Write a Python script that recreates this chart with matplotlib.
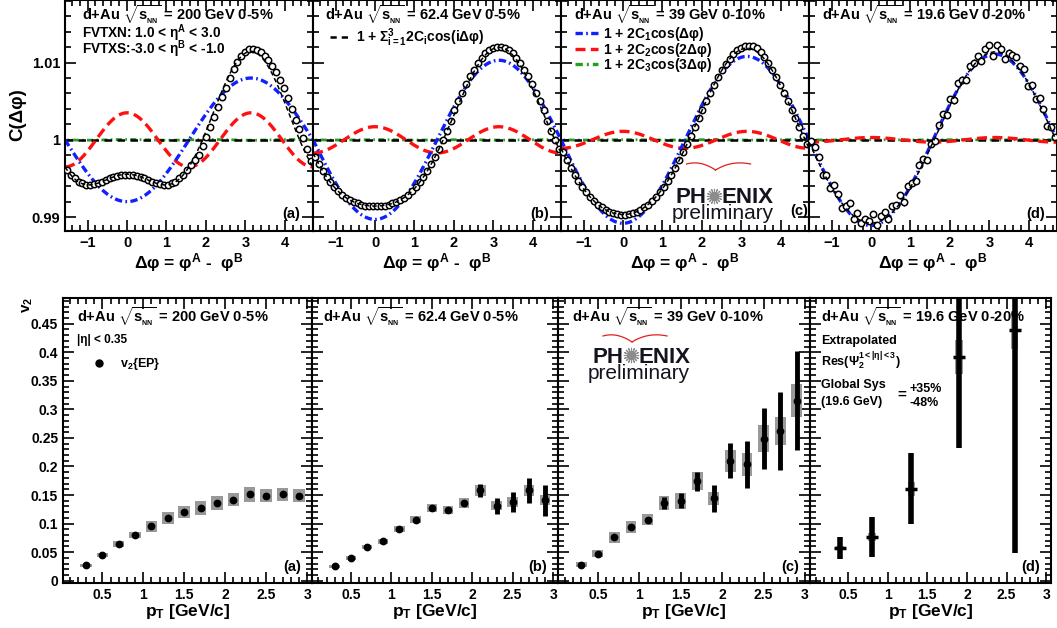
import numpy as np
import matplotlib.pyplot as plt
from matplotlib.ticker import MultipleLocator, FixedLocator

plt.rcParams['font.family'] = ['Liberation Sans', 'DejaVu Sans']
plt.rcParams['font.weight'] = 'bold'
plt.rcParams['axes.labelweight'] = 'bold'
plt.rcParams['mathtext.fontset'] = 'custom'
plt.rcParams['mathtext.rm'] = 'Liberation Sans:bold'
plt.rcParams['mathtext.it'] = 'Liberation Sans:bold'
plt.rcParams['mathtext.bf'] = 'Liberation Sans:bold'
plt.rcParams['mathtext.sf'] = 'Liberation Sans:bold'

W, H = 1057, 628

# ---- top row: C(dphi) correlation functions, 64 bins in [-pi/2, 3pi/2]
n_bins = 64
energies = ['200', '62.4', '39', '19.6']
centralities = ['0-5%', '0-5%', '0-10%', '0-20%']
panel_tags = ['(a)', '(b)', '(c)', '(d)']

# C(dphi) - 1 in units of 1e-4
corr_200 = [-39, -45, -50, -54, -56, -58, -58, -57, -56, -54, -52, -50, -48, -47, -46, -45,
            -45, -46, -47, -48, -50, -52, -54, -56, -57, -58, -58, -56, -54, -50, -45, -39,
            -33, -26, -20, -8, 4, 17, 30, 42, 55, 67, 80, 92, 101, 109, 114, 117,
            117, 116, 114, 109, 103, 96, 88, 78, 67, 54, 40, 26, 14, 2, -12, -27]
corr_62 = [-22, -31, -40, -48, -55, -61, -66, -71, -75, -78, -80, -82, -84, -85, -86, -86,
           -86, -86, -85, -84, -82, -80, -78, -75, -71, -66, -61, -55, -48, -40, -31, -22,
           -12, 0, 12, 25, 38, 50, 61, 72, 82, 91, 99, 106, 112, 116, 119, 120,
           120, 119, 116, 112, 106, 99, 91, 82, 72, 61, 50, 38, 25, 12, 0, -12]
corr_39 = [-16, -26, -36, -45, -53, -61, -68, -74, -79, -84, -87, -91, -93, -95, -96, -97,
           -97, -96, -95, -93, -91, -87, -84, -79, -74, -68, -61, -53, -45, -36, -26, -16,
           -6, 5, 17, 28, 39, 50, 61, 71, 81, 90, 98, 105, 111, 116, 119, 121,
           122, 122, 119, 114, 107, 99, 90, 81, 71, 61, 50, 39, 28, 17, 5, -6]
corr_19 = [-2, -9, -22, -45, -45, -62, -58, -70, -88, -85, -82, -102, -95, -107, -102, -105,
           -96, -110, -99, -93, -103, -86, -84, -72, -81, -60, -56, -53, -32, -25, -26, -5,
           -2, 19, 33, 32, 53, 51, 73, 78, 77, 95, 100, 109, 102, 117, 123, 108,
           123, 117, 105, 113, 110, 107, 95, 92, 70, 71, 53, 54, 40, 18, 17, 4]
corr_err = [1.5, 1.5, 2.0, 4.0]

# fitted Fourier coefficients 2C_n (units of 1e-4)
two_c1 = [-80, -103, -108, -111]
two_c2 = [35, 17, 11, 3]
two_c3 = [0.5, 0.3, 0.3, 0.2]

# ---- bottom row: v2(pT)
pt_bins = [0.3, 0.5, 0.7, 0.9, 1.1, 1.3, 1.5, 1.7, 1.9, 2.1, 2.3, 2.5, 2.7, 2.9]
v2_200 = [0.027, 0.045, 0.064, 0.080, 0.095, 0.110, 0.120, 0.127, 0.136, 0.142, 0.151, 0.149, 0.151, 0.149]
stat_200 = [0.002] * 14
sys_200 = [0.003, 0.004, 0.005, 0.006, 0.009, 0.010, 0.011, 0.012, 0.012, 0.012, 0.013, 0.012, 0.012, 0.012]
v2_62 = [0.025, 0.040, 0.059, 0.069, 0.090, 0.107, 0.127, 0.123, 0.136, 0.158, 0.131, 0.138, 0.158, 0.141]
stat_62 = [0.002, 0.002, 0.002, 0.003, 0.003, 0.003, 0.004, 0.004, 0.005, 0.011, 0.014, 0.018, 0.022, 0.027]
sys_62 = [0.002, 0.003, 0.004, 0.004, 0.005, 0.006, 0.007, 0.007, 0.008, 0.009, 0.008, 0.009, 0.009, 0.009]
v2_39 = [0.028, 0.047, 0.076, 0.094, 0.107, 0.136, 0.140, 0.174, 0.144, 0.210, 0.204, 0.249, 0.262, 0.315]
stat_39 = [0.002, 0.002, 0.003, 0.004, 0.005, 0.010, 0.013, 0.017, 0.023, 0.031, 0.041, 0.054, 0.069, 0.087]
sys_39 = [0.004, 0.006, 0.010, 0.011, 0.010, 0.012, 0.014, 0.016, 0.012, 0.019, 0.020, 0.023, 0.024, 0.029]
pt_19 = [0.4, 0.8, 1.3, 1.9, 2.6]
v2_19 = [0.0575, 0.077, 0.161, 0.392, 0.439]
stat_19 = [0.019, 0.035, 0.062, 0.159, 0.39]
sys_19 = [0.003, 0.007, 0.012, 0.030, 0.033]

fig = plt.figure(figsize=(W / 100, H / 100), dpi=100)


def px_axes(x0, x1, y0, y1):
    return fig.add_axes([x0 / W, 1 - y1 / H, (x1 - x0) / W, (y1 - y0) / H])


def ftext(x, y, s, **kw):
    kw.setdefault('ha', 'left')
    kw.setdefault('va', 'baseline')
    fig.text(x / W, 1 - y / H, s, **kw)


def root_style(ax):
    for sp in ax.spines.values():
        sp.set_linewidth(1.5)
    ax.tick_params(which='both', direction='in', top=True, right=True, width=1.2)
    ax.tick_params(which='major', length=8)
    ax.tick_params(which='minor', length=4)


def bold_ticks(ax, size):
    for lbl in ax.get_xticklabels() + ax.get_yticklabels():
        lbl.set_fontweight('bold')
        lbl.set_fontsize(size)


def phenix_logo(ax, x0, y0, arc_lift):
    """PHENIX preliminary logo; x0,y0 = left/baseline of 'PH' in axes fraction"""
    pos = ax.get_position()
    aw, ah = pos.width * W, pos.height * H

    def p(dx, dy):
        return x0 + dx / aw, y0 + dy / ah

    kw = dict(transform=ax.transAxes, va='baseline', ha='left', color='#14141e')
    ax.text(*p(0, 0), 'PH', fontsize=16, fontweight='bold', **kw)
    ax.text(*p(46, 0), 'ENIX', fontsize=16, fontweight='bold', **kw)
    ax.text(*p(-4, -16), 'preliminary', fontsize=15, fontweight='normal', **kw)
    ax.plot(*p(38.5, 7.5), marker=(16, 2, 0), ms=11, mew=0.8, color='0.55',
            transform=ax.transAxes, clip_on=False)
    t = np.linspace(0, 1, 30)
    for a, c, b in [((11, 6), (25, 10), (40, 0)), ((40, 0), (56, 10), (75, 6))]:
        bx = (1 - t) ** 2 * a[0] + 2 * t * (1 - t) * c[0] + t ** 2 * b[0]
        by = (1 - t) ** 2 * a[1] + 2 * t * (1 - t) * c[1] + t ** 2 * b[1]
        px, py = p(bx, by + arc_lift)
        ax.plot(px, py, color='#e02020', lw=0.9, transform=ax.transAxes, clip_on=False)


# ---------------- top row ----------------
top_x = [(65, 313), (313, 561), (561, 809), (809, 1057)]
corr_sets = [corr_200, corr_62, corr_39, corr_19]
edges = np.linspace(-np.pi / 2, 3 * np.pi / 2, n_bins + 1)
dphi = 0.5 * (edges[1:] + edges[:-1])
xs = np.linspace(-np.pi / 2, 3 * np.pi / 2, 400)

for k in range(4):
    ax = px_axes(top_x[k][0], top_x[k][1], 0, 231)
    root_style(ax)
    ax.set_xlim(-np.pi / 2, 3 * np.pi / 2)
    ax.set_ylim(0.9882, 1.0181)
    ax.xaxis.set_major_locator(FixedLocator([-1, 0, 1, 2, 3, 4]))
    ax.xaxis.set_minor_locator(MultipleLocator(0.2))
    ax.yaxis.set_major_locator(FixedLocator([0.99, 1.0, 1.01]))
    ax.yaxis.set_minor_locator(MultipleLocator(0.002))
    ax.set_xticklabels(['\u22121', '0', '1', '2', '3', '4'])
    if k == 0:
        ax.set_yticklabels(['0.99', '1', '1.01'])
    else:
        ax.set_yticklabels([])
    bold_ticks(ax, 10.5)
    a1, a2, a3 = two_c1[k] * 1e-4, two_c2[k] * 1e-4, two_c3[k] * 1e-4
    ax.plot(xs, 1 + a3 * np.cos(3 * xs), color='#22a022', lw=2.0,
            ls=(2.5, (2.2, 1.2, 0.6, 1.2)))
    ax.axhline(1.0, color='k', lw=1.8, ls=(0, (3.0, 2.2)))
    ax.plot(xs, 1 + a2 * np.cos(2 * xs), color='#ff1010', lw=2.4, ls=(0, (3.0, 1.6)))
    ax.plot(xs, 1 + a1 * np.cos(xs), color='#1020ff', lw=2.4, ls=(0, (2.2, 1.0, 0.5, 1.0)))
    c = 1 + np.array(corr_sets[k]) * 1e-4
    ax.errorbar(dphi, c, yerr=corr_err[k] * 1e-4, fmt='o', ms=4.6, mfc='white',
                mec='k', mew=1.1, ecolor='k', elinewidth=1.0, capsize=0, zorder=5)
    ax.plot(xs, 1 + a1 * np.cos(xs) + a2 * np.cos(2 * xs) + a3 * np.cos(3 * xs),
            color='k', lw=1.1, ls=(0, (3, 2)), zorder=6)
    ax.set_xlabel('Δφ = φ$^{A}$ -  φ$^{B}$', fontsize=12.5, labelpad=1)
    if k == 2:
        ax.text(0.995, 0.085, panel_tags[k], transform=ax.transAxes, ha='right',
                va='center', fontsize=10.5)
        phenix_logo(ax, 0.462, 0.121, 33)
    else:
        ax.text(0.95, 0.074, panel_tags[k], transform=ax.transAxes, ha='right',
                va='center', fontsize=10.5)

ftext(18, 115, 'C(Δφ)', rotation=90, ha='center', va='center', fontsize=13.5)

title_x = [82, 325, 574, 822]
for k in range(4):
    ftext(title_x[k], 21, 'd+Au $\\sqrt{s_{_{NN}}}$ = %s GeV %s' % (energies[k], centralities[k]),
          fontsize=10.5)
ftext(82, 38, 'FVTXN: 1.0 < η$^{A}$ < 3.0', fontsize=9.8)
ftext(82, 54, 'FVTXS:-3.0 < η$^{B}$ < -1.0', fontsize=9.8)

# legends
fig.add_artist(plt.Line2D([330 / W, 352 / W], [1 - 37 / H] * 2, color='k', lw=1.8,
                          ls=(0, (2.5, 2.0))))
ftext(356, 42, '1 + $\\Sigma_{i=1}^{3}$2C$_{i}$cos(iΔφ)', fontsize=10)
leg_rows = [(33, '#1020ff', (0, (2.2, 1.0, 0.5, 1.0)), '1 + 2C$_{1}$cos(Δφ)'),
            (49, '#ff1010', (0, (3.0, 1.6)), '1 + 2C$_{2}$cos(2Δφ)'),
            (64, '#22a022', (0, (2.2, 1.2, 0.6, 1.2)), '1 + 2C$_{3}$cos(3Δφ)')]
for y, col, ls, lab in leg_rows:
    fig.add_artist(plt.Line2D([575 / W, 598 / W], [1 - y / H] * 2, color=col, lw=2.4, ls=ls))
    ftext(603, y + 5, lab, fontsize=10)

# ---------------- bottom row ----------------
bot_x = [(63, 312), (312, 558), (558, 810), (810, 1051)]
v2_sets = [(pt_bins, v2_200, stat_200, sys_200, 0.14),
           (pt_bins, v2_62, stat_62, sys_62, 0.13),
           (pt_bins, v2_39, stat_39, sys_39, 0.13),
           (pt_19, v2_19, stat_19, sys_19, 0.10)]
y_ticks = [0, 0.05, 0.1, 0.15, 0.2, 0.25, 0.3, 0.35, 0.4, 0.45]
for k in range(4):
    ax = px_axes(bot_x[k][0], bot_x[k][1], 298, 583)
    root_style(ax)
    ax.set_xlim(0.02, 3.06)
    ax.set_ylim(-0.004, 0.495)
    ax.xaxis.set_major_locator(FixedLocator([0.5, 1, 1.5, 2, 2.5, 3]))
    ax.xaxis.set_minor_locator(MultipleLocator(0.1))
    ax.yaxis.set_major_locator(FixedLocator(y_ticks))
    ax.yaxis.set_minor_locator(MultipleLocator(0.01))
    ax.set_xticklabels(['0.5', '1', '1.5', '2', '2.5', '3'])
    if k == 0:
        ax.set_yticklabels(['%g' % t for t in y_ticks])
    else:
        ax.set_yticklabels([])
    bold_ticks(ax, 10)
    x, v, st, sy, bw = v2_sets[k]
    x = np.array(x); v = np.array(v); st = np.array(st); sy = np.array(sy)
    ax.bar(x, 2 * sy, bottom=v - sy, width=bw, color='0.6', lw=0, zorder=2)
    if k < 3:
        ax.errorbar(x, v, yerr=st, fmt='o', ms=4.6, color='k', elinewidth=3.5,
                    capsize=0, zorder=3)
    else:
        ax.errorbar(x, v, yerr=st, fmt='_', ms=9, mew=2.5, color='k', elinewidth=4,
                    capsize=0, zorder=3)
    ax.set_xlabel('p$_{T}$ [GeV/c]', fontsize=12.5, labelpad=0)
    ax.text(0.955, 0.055, panel_tags[k], transform=ax.transAxes, ha='right',
            va='center', fontsize=10.5)
    if k == 0:
        ax.plot([0.1446], [0.772], 'o', ms=5, color='k', transform=ax.transAxes)
    if k == 2:
        phenix_logo(ax, 0.135, 0.772, 21)

bot_title_x = [77, 323, 572, 821]
for k in range(4):
    ftext(bot_title_x[k], 323, 'd+Au $\\sqrt{s_{_{NN}}}$ = %s GeV %s' % (energies[k], centralities[k]),
          fontsize=10.5)
ftext(77, 343, '|η| < 0.35', fontsize=8.5)
ftext(120, 367, 'v$_{2}${EP}', fontsize=9)
ftext(821, 344, 'Extrapolated', fontsize=9)
ftext(821, 366, 'Res($\\Psi_{2}^{1<|\\eta|<3}$)', fontsize=9)
ftext(821, 388, 'Global Sys', fontsize=9)
ftext(821, 405, '(19.6 GeV)', fontsize=9)
ftext(897, 395, '=', fontsize=11, va='center')
ftext(909, 392, '+35%', fontsize=9)
ftext(909, 406, '-48%', fontsize=9)
ftext(28, 305, 'v$_{2}$', rotation=90, ha='center', va='center', fontsize=11)

fig.savefig('out.png', dpi=100)
